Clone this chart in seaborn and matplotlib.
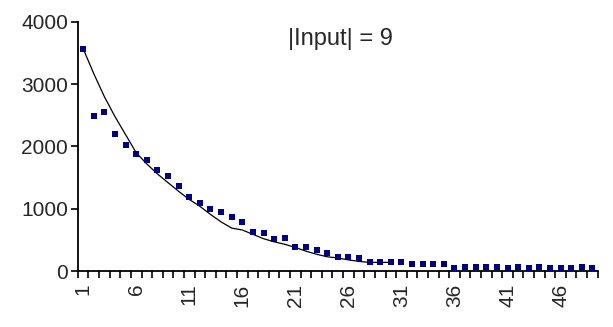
import numpy as np
import pandas as pd
import matplotlib
matplotlib.use("Agg")
import matplotlib.pyplot as plt
import seaborn as sns

# observed values (dots), categories 1..49
observed = [3570, 2490, 2550, 2200, 2020, 1880, 1790, 1620, 1530, 1360,
            1190, 1090, 990, 950, 870, 790, 630, 605, 515, 525,
            380, 380, 335, 290, 230, 230, 205, 140, 140, 140,
            140, 112, 112, 112, 112, 53, 65, 70, 70, 65,
            45, 65, 55, 70, 45, 55, 55, 65, 50]
# fitted curve (line), categories 1..30
fitted = [3570, 3170, 2800, 2480, 2190, 1900, 1720, 1560, 1420, 1280,
          1150, 1040, 910, 790, 690, 660, 590, 520, 470, 430,
          380, 320, 270, 230, 210, 180, 155, 140, 140, 140]
xticklabels = [str(i) for i in range(1, 50, 5)]
title = "|Input| = 9"

sns.set_theme(style="white")
plt.rcParams['font.family'] = ['Liberation Sans', 'DejaVu Sans']

df_obs = pd.DataFrame({"x": np.arange(1, len(observed) + 1), "y": observed})
df_fit = pd.DataFrame({"x": np.arange(1, len(fitted) + 1), "y": fitted})

fig = plt.figure(figsize=(6.13, 3.27), dpi=100)
ax = fig.add_axes([0.127, 0.171, 0.848, 0.762])

sns.lineplot(data=df_fit, x="x", y="y", ax=ax, color="black", linewidth=0.9)
sns.scatterplot(data=df_obs, x="x", y="y", ax=ax, marker="s", color="#000080",
                s=16, linewidth=0, zorder=3)

ax.set_xlim(0.5, len(observed) + 0.5)
ax.set_ylim(0, 4000)
ax.set_yticks([0, 1000, 2000, 3000, 4000])
ax.set_yticklabels(["0", "1000", "2000", "3000", "4000"], fontsize=15)
ax.set_xticks(list(range(1, 50, 5)))
ax.set_xticklabels(xticklabels, rotation=90, fontsize=15)
ax.set_xticks(np.arange(0.5, len(observed) + 1, 1.0), minor=True)
ax.tick_params(axis="x", which="major", length=0, pad=9)
ax.tick_params(axis="x", which="minor", length=5, width=1.2, direction="out",
               color="black", bottom=True)
ax.tick_params(axis="y", length=5, width=1.2, direction="out", color="black",
               left=True, pad=2)
ax.set_xlabel("")
ax.set_ylabel("")
for s in ["top", "right"]:
    ax.spines[s].set_visible(False)
for s in ["left", "bottom"]:
    ax.spines[s].set_color("black")
    ax.spines[s].set_linewidth(1.3)

ax.text(0.505, 0.93, title, transform=ax.transAxes, ha="center", va="center",
        fontsize=17)

fig.savefig("out.png", dpi=100)
